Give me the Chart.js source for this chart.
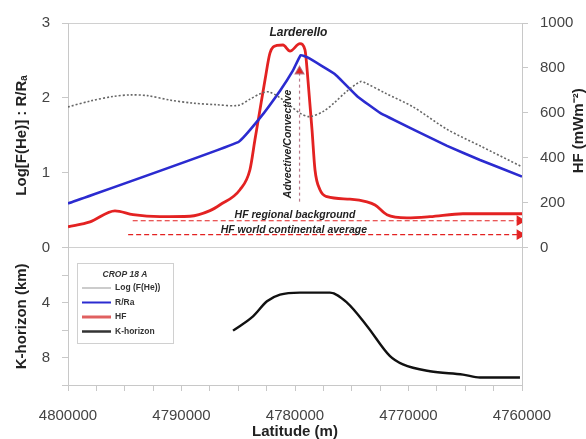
<!DOCTYPE html>
<html>
<head>
<meta charset="utf-8">
<script src="https://cdn.jsdelivr.net/npm/chart.js@4.4.0/dist/chart.umd.min.js"></script>
<style>
  body { margin: 0; background: #fff; }
  #wrap { width: 586px; height: 439px; }
</style>
</head>
<body>
<div id="wrap"><canvas id="crop"></canvas></div>
<script>
// Log F(He) - dotted grey
const latHe = [4800000, 4798000, 4796000, 4794500, 4793000, 4791000, 4789000, 4787000, 4785000, 4784000,
  4783000, 4782300, 4781300, 4780300, 4779500, 4778700, 4777500, 4776500, 4775500, 4774200,
  4773800, 4772000, 4769600, 4766600, 4763700, 4760000];
const logHe = [1.88, 1.96, 2.02, 2.04, 2.03, 1.97, 1.93, 1.91, 1.90, 1.98,
  2.06, 2.08, 2.00, 1.88, 1.79, 1.75, 1.82, 1.94, 2.08, 2.22,
  2.20, 2.06, 1.88, 1.58, 1.36, 1.08];

// R/Ra - blue
const latRa = [4800000, 4785000, 4783100, 4781300, 4780200, 4779500, 4778900, 4776500, 4774500,
  4772500, 4769600, 4766600, 4763700, 4760000];
const rRa = [0.59, 1.41, 1.73, 2.10, 2.36, 2.57, 2.54, 2.32, 2.02, 1.80, 1.58, 1.36, 1.17, 0.95];

// heat flow (mW/m2) - red
const latHF = [4800000, 4798060, 4795860, 4794270, 4791900, 4789250, 4787490, 4786600, 4784850, 4783970,
  4783530, 4783090, 4782640, 4782200, 4781590, 4781060, 4780440, 4779560, 4779120, 4778860,
  4778500, 4778240, 4777800, 4777180, 4775160, 4773660, 4772950, 4771900, 4770140, 4768110,
  4765200, 4760000];
const hf = [93, 115, 164, 147, 138, 140, 165, 191, 258, 347,
  480, 613, 747, 867, 900, 902, 875, 908, 880, 747,
  524, 347, 258, 227, 216, 204, 190, 147, 133, 138,
  151, 151];

// K-horizon depth (km)
const latK = [4785460, 4783700, 4782470, 4781320, 4779560, 4776920, 4775420, 4773660, 4771630, 4770490,
  4768110, 4765200, 4763700, 4760180];
const kHorizon = [6.04, 5.0, 3.9, 3.42, 3.27, 3.27, 4.0, 5.7, 7.9, 8.5, 9.0, 9.24, 9.45, 9.45];

// tick values
const hfTicks = [0, 200, 400, 600, 800, 1000];
const kTicks = [4, 8];

// reference heat flow levels and the arrow span
const hfRegional = 120;
const hfWorld = 58;
const arrowLat = [4794300, 4760200];
const convLat = 4779600;
const convHF = [205, 785];

const RED = '#e32222';
const zip = (xs, ys) => xs.map((x, i) => ({ x: x, y: ys[i] }));

const lastArrow = (n, rot) => ({
  pointStyle: ctx => ctx.dataIndex === n ? 'triangle' : false,
  pointRadius: ctx => ctx.dataIndex === n ? 5 : 0,
  pointRotation: rot
});

const legendBox = {
  id: 'legendBox',
  afterDatasetsDraw(chart) {
    const { ctx, scales } = chart;
    const a = chart.chartArea;
    ctx.save();
    // annotation texts
    ctx.fillStyle = '#222';
    ctx.textAlign = 'center';
    ctx.textBaseline = 'middle';
    ctx.font = 'italic bold 12px "Liberation Sans", Arial';
    ctx.fillText('Larderello', scales.x.getPixelForValue(4779700), scales.y.getPixelForValue(2.87));
    ctx.font = 'italic bold 10.5px "Liberation Sans", Arial';
    ctx.fillText('HF regional background', scales.x.getPixelForValue(4780000), scales.y1.getPixelForValue(147));
    ctx.fillText('HF world continental average', scales.x.getPixelForValue(4780100), scales.y1.getPixelForValue(80));
    ctx.save();
    ctx.translate(scales.x.getPixelForValue(4780600), scales.y1.getPixelForValue(462));
    ctx.rotate(-Math.PI / 2);
    ctx.fillText('Advective/Convective', 0, 0);
    ctx.restore();

    // right axis title, reading upwards
    ctx.save();
    ctx.translate(a.right + 57, scales.y1.getPixelForValue(520));
    ctx.rotate(-Math.PI / 2);
    ctx.font = 'bold 15px "Liberation Sans", Arial';
    ctx.fillText('HF (mWm\u207B\u00B2)', 0, 0);
    ctx.restore();

    // legend
    const lx = a.left + 9, ly = a.top + 240, lw = 96, lh = 80;
    ctx.fillStyle = '#fff';
    ctx.fillRect(lx, ly, lw, lh);
    ctx.strokeStyle = '#d0d0d0';
    ctx.lineWidth = 1;
    ctx.strokeRect(lx + 0.5, ly + 0.5, lw, lh);
    ctx.fillStyle = '#333';
    ctx.font = 'italic bold 8.5px "Liberation Sans", Arial';
    ctx.fillText('CROP 18 A', lx + 48, ly + 12);
    ctx.textAlign = 'left';
    ctx.font = 'bold 8.5px "Liberation Sans", Arial';
    chart.data.datasets.filter(d => d.inLegend).forEach((d, i) => {
      const yy = ly + 25 + i * 14.5;
      ctx.strokeStyle = d.legendColor || d.borderColor;
      ctx.lineWidth = d.legendWidth || 2;
      ctx.setLineDash([]);
      ctx.beginPath();
      ctx.moveTo(lx + 5, yy);
      ctx.lineTo(lx + 34, yy);
      ctx.stroke();
      ctx.fillStyle = '#333';
      ctx.fillText(d.label, lx + 38, yy);
    });
    ctx.restore();
  }
};

const tickFont = { family: '"Liberation Sans", Arial', size: 15 };
const titleFont = { family: '"Liberation Sans", Arial', size: 15, weight: 'bold' };

new Chart(document.getElementById('crop'), {
  type: 'line',
  data: {
    datasets: [
      {
        label: 'Log (F(He))', inLegend: true, legendColor: '#999', legendWidth: 1,
        data: zip(latHe, logHe), yAxisID: 'y',
        borderColor: '#666', borderWidth: 1.6, borderDash: [2, 2],
        pointRadius: 0, tension: 0.3
      },
      {
        label: 'R/Ra', inLegend: true,
        data: zip(latRa, rRa), yAxisID: 'y',
        borderColor: '#2b2bd0', borderWidth: 2.6,
        pointRadius: 0, tension: 0.1
      },
      {
        label: 'HF', inLegend: true, legendColor: '#e06060', legendWidth: 3,
        data: zip(latHF, hf), yAxisID: 'y1',
        borderColor: RED, borderWidth: 2.8,
        pointRadius: 0, cubicInterpolationMode: 'monotone'
      },
      {
        label: 'K-horizon', inLegend: true, legendColor: '#333', legendWidth: 2.5,
        data: zip(latK, kHorizon), yAxisID: 'yk',
        borderColor: '#111', borderWidth: 2.4,
        pointRadius: 0, cubicInterpolationMode: 'monotone'
      },
      Object.assign({
        label: 'regional',
        data: zip(arrowLat, [hfRegional, hfRegional]), yAxisID: 'y1',
        borderColor: RED, backgroundColor: RED, borderWidth: 1.2, borderDash: [5, 3]
      }, lastArrow(1, 90)),
      Object.assign({
        label: 'world',
        data: zip([arrowLat[0] + 400, arrowLat[1]], [hfWorld, hfWorld]), yAxisID: 'y1',
        borderColor: RED, backgroundColor: RED, borderWidth: 1.2, borderDash: [5, 3]
      }, lastArrow(1, 90)),
      Object.assign({
        label: 'conv',
        data: zip([convLat, convLat], convHF), yAxisID: 'y1',
        borderColor: 'rgba(170,90,110,0.8)', backgroundColor: RED, borderWidth: 1.2, borderDash: [3, 3]
      }, lastArrow(1, 0))
    ]
  },
  options: {
    responsive: true,
    maintainAspectRatio: false,
    animation: false,
    layout: { padding: { top: 23, left: 0, right: 0, bottom: 0 } },
    plugins: {
      legend: { display: false },
      tooltip: { enabled: false }
    },
    scales: {
      x: {
        type: 'linear',
        reverse: true,
        min: 4760000,
        max: 4800000,
        afterFit: s => { s.height = 54; },
        ticks: {
          stepSize: 2500,
          autoSkip: false,
          maxRotation: 0,
          padding: 16,
          color: '#444',
          font: tickFont,
          callback: v => v % 10000 === 0 ? String(v) : ''
        },
        grid: { drawOnChartArea: false, tickLength: 6, tickColor: '#c8c8c8' },
        border: { color: '#c8c8c8' },
        title: {
          display: true, text: 'Latitude (m)', color: '#222', font: titleFont,
          padding: { top: 0, bottom: -2 }
        }
      },
      y: {
        position: 'left',
        stack: 'left',
        stackWeight: 225,
        weight: 2,
        min: 0,
        max: 3,
        afterFit: s => { s.width = 68; },
        ticks: { stepSize: 1, padding: 12, color: '#444', font: tickFont },
        grid: {
          color: c => (c.tick.value === 0 || c.tick.value === 3) ? '#d0d0d0' : 'transparent',
          tickLength: 6, tickColor: '#c8c8c8'
        },
        border: { color: '#c8c8c8' },
        title: {
          display: true, text: 'Log[F(He)] : R/R\u2090', color: '#222', font: titleFont,
          padding: { top: 13, bottom: 0 }
        }
      },
      yk: {
        position: 'left',
        stack: 'left',
        stackWeight: 137.5,
        weight: 1,
        reverse: true,
        min: 0,
        max: 10,
        afterFit: s => { s.width = 68; },
        ticks: {
          stepSize: 2, padding: 12, color: '#444', font: tickFont, autoSkip: false,
          callback: v => kTicks.includes(v) ? String(v) : ''
        },
        grid: { drawOnChartArea: false, tickLength: 6, tickColor: '#c8c8c8' },
        border: { color: '#c8c8c8' },
        title: {
          display: true, text: 'K-horizon (km)', color: '#222', font: titleFont,
          padding: { top: 13, bottom: 0 }
        }
      },
      y1: {
        position: 'right',
        min: -611,
        max: 1000,
        afterFit: s => { s.width = 64; },
        afterBuildTicks: s => { s.ticks = hfTicks.map(v => ({ value: v })); },
        ticks: {
          padding: 12, color: '#444', font: tickFont, autoSkip: false,
          callback: v => String(v)
        },
        grid: { drawOnChartArea: false, tickLength: 6, tickColor: '#c8c8c8' },
        border: { color: '#c8c8c8' }
      }
    }
  },
  plugins: [legendBox]
});
</script>
</body>
</html>
